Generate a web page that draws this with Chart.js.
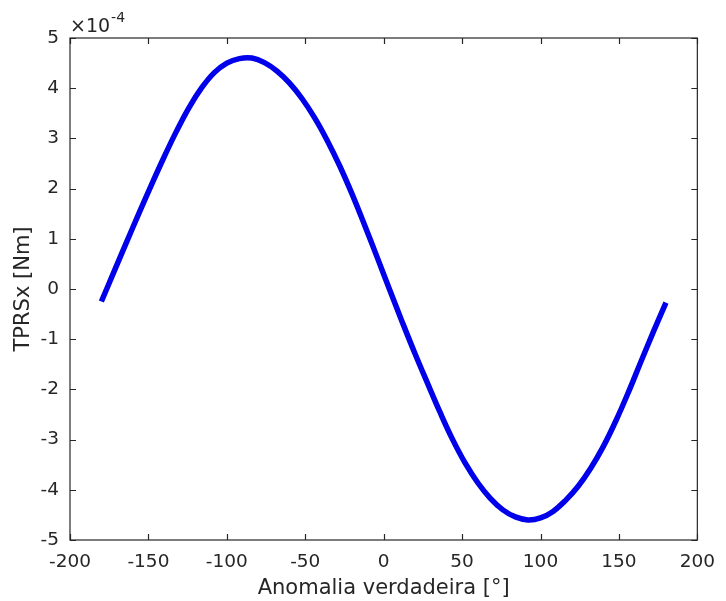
<html>
<head>
<meta charset="UTF-8"/>
<style>
html, body {
 margin: 0px;
 border: 0;
 overflow: hidden;
 background-color: #ffffff;
}
canvas { display: block; }
</style>
<script src="https://cdn.jsdelivr.net/npm/chart.js@4.4.1/dist/chart.umd.min.js"></script>
<script type="text/javascript">
// true anomaly [deg]
var anomalia = [-180, -172, -164, -156, -148, -140, -132, -124, -116, -108, -100, -92, -84, -76, -68, -60, -52, -44, -36, -28,
                -20, -12, -4, 4, 12, 20, 28, 36, 44, 52, 60, 68, 76, 84, 92, 100, 108, 116, 124, 132,
                140, 148, 156, 164, 172, 180];
// TPRSx, in units of 1e-4 Nm (as shown on the axis)
var tprsx = [-0.25, 0.34, 0.93, 1.51, 2.08, 2.63, 3.15, 3.62, 4.01, 4.31, 4.50, 4.59, 4.60, 4.51, 4.34, 4.10, 3.79, 3.41, 2.96, 2.45,
             1.88, 1.26, 0.62, -0.03, -0.67, -1.29, -1.88, -2.46, -3.00, -3.47, -3.86, -4.17, -4.40, -4.54, -4.60, -4.56, -4.43, -4.21, -3.93, -3.57,
             -3.14, -2.63, -2.06, -1.45, -0.85, -0.27];

var xTicks = [-200, -150, -100, -50, 0, 50, 100, 150, 200];
var yTicks = [-5, -4, -3, -2, -1, 0, 1, 2, 3, 4, 5];

var axisColor = '#262626';
var fontFamily = 'DejaVu Sans';

// MATLAB-like box with inward ticks and the x10^-4 exponent
var boxPlugin = {
    id: 'box',
    afterDraw: function(chart) {
        var ctx = chart.ctx;
        var a = chart.chartArea;
        var xs = chart.scales.x, ys = chart.scales.y;
        var tl = 6;
        ctx.save();
        ctx.strokeStyle = axisColor;
        ctx.lineWidth = 1.2;
        ctx.strokeRect(a.left, a.top, a.right - a.left, a.bottom - a.top);
        ctx.beginPath();
        xTicks.forEach(function(v) {
            var p = Math.round(xs.getPixelForValue(v)) + 0.5;
            ctx.moveTo(p, a.bottom); ctx.lineTo(p, a.bottom - tl);
            ctx.moveTo(p, a.top); ctx.lineTo(p, a.top + tl);
        });
        yTicks.forEach(function(v) {
            var p = Math.round(ys.getPixelForValue(v)) + 0.5;
            ctx.moveTo(a.left, p); ctx.lineTo(a.left + tl, p);
            ctx.moveTo(a.right, p); ctx.lineTo(a.right - tl, p);
        });
        ctx.stroke();

        ctx.fillStyle = axisColor;
        ctx.textBaseline = 'alphabetic';
        ctx.textAlign = 'left';
        ctx.font = '19px ' + fontFamily;
        ctx.fillText('\u00d710', a.left, a.top - 6);
        var w = ctx.measureText('\u00d710').width;
        ctx.font = '14px ' + fontFamily;
        ctx.fillText('-4', a.left + w + 1, a.top - 16);
        ctx.restore();
    }
};

function init() {
    var points = anomalia.map(function(x, i) { return {x: x, y: tprsx[i]}; });
    var ctx = document.getElementById('myChart').getContext('2d');
    new Chart(ctx, {
        type: 'line',
        data: {
            datasets: [{
                label: 'TPRSx',
                data: points,
                borderColor: 'rgb(0, 0, 235)',
                borderWidth: 5.5,
                pointRadius: 0,
                tension: 0.4,
                fill: false
            }]
        },
        options: {
            responsive: false,
            animation: false,
            layout: { padding: { top: 38, right: 21, left: 0, bottom: 0 } },
            plugins: {
                legend: { display: false },
                tooltip: { enabled: false }
            },
            scales: {
                x: {
                    type: 'linear',
                    min: -200, max: 200,
                    afterBuildTicks: function(s) { s.ticks = xTicks.map(function(v) { return {value: v}; }); },
                    afterFit: function(s) { s.height = 61; },
                    grid: { display: false, drawTicks: false },
                    border: { display: false },
                    ticks: {
                        color: axisColor,
                        padding: 11,
                        maxRotation: 0,
                        font: { family: fontFamily, size: 18.5 }
                    },
                    title: {
                        display: true,
                        text: 'Anomalia verdadeira [\u00b0]',
                        color: axisColor,
                        padding: { top: 0, bottom: 0 },
                        font: { family: fontFamily, size: 21 }
                    }
                },
                y: {
                    type: 'linear',
                    min: -5, max: 5,
                    afterBuildTicks: function(s) { s.ticks = yTicks.map(function(v) { return {value: v}; }); },
                    afterFit: function(s) { s.width = 70; },
                    grid: { display: false, drawTicks: false },
                    border: { display: false },
                    ticks: {
                        color: axisColor,
                        padding: 11,
                        font: { family: fontFamily, size: 18.5 }
                    },
                    title: {
                        display: true,
                        text: 'TPRSx [Nm]',
                        color: axisColor,
                        padding: { top: 11, bottom: 0 },
                        font: { family: fontFamily, size: 21 }
                    }
                }
            }
        },
        plugins: [boxPlugin]
    });
}
</script>
<title>TPRSx</title>
</head>
<body onload="init();">
<canvas id="myChart" width="726" height="601"></canvas>
</body>
</html>
